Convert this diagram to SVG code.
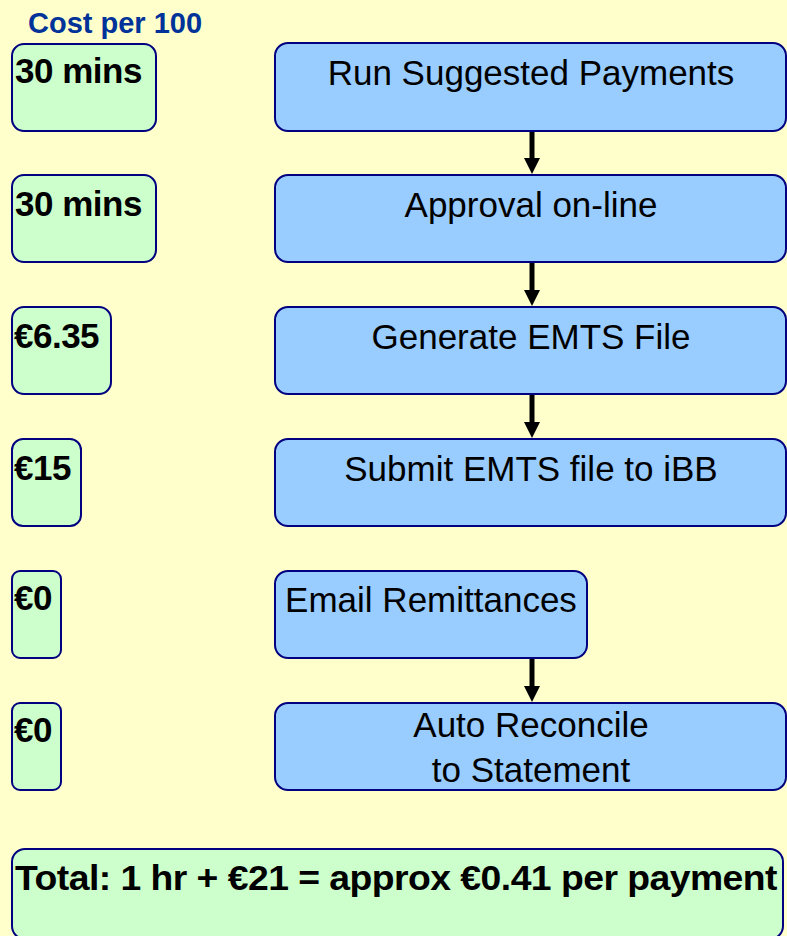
<svg xmlns="http://www.w3.org/2000/svg" width="787" height="936" viewBox="0 0 787 936">
  <style>
    .bg { fill: #FFFFCC; }
    .step { fill: #99CCFF; stroke: #000080; stroke-width: 2; }
    .cost { fill: #CCFFCC; stroke: #000080; stroke-width: 2; }
    .stepText { font-family: "Liberation Sans", Arial, sans-serif; font-size: 35px; fill: #000000; text-anchor: middle; }
    .costText { font-family: "Liberation Sans", Arial, sans-serif; font-size: 35px; font-weight: bold; fill: #000000; letter-spacing: -0.5px; }
    .title { font-family: "Liberation Sans", Arial, sans-serif; font-size: 29px; font-weight: bold; fill: #003399; }
    .conn { stroke: #000000; stroke-width: 5; fill: none; marker-end: url(#arrow); }
  </style>
  <defs>
    <marker id="arrow" markerUnits="userSpaceOnUse" markerWidth="16" markerHeight="16" refX="0" refY="8" orient="auto">
      <path d="M0,0 L16,8 L0,16 z" fill="#000000"/>
    </marker>
  </defs>
  <rect class="bg" x="0" y="0" width="787" height="936"/>

  <text id="title" class="title" x="28" y="33">Cost per 100</text>

  <g id="cost1">
    <rect class="cost" x="12" y="44" width="144" height="87" rx="12"/>
    <text class="costText" x="15" y="83">30 mins</text>
  </g>
  <g id="cost2">
    <rect class="cost" x="12" y="175" width="144" height="87" rx="12"/>
    <text class="costText" x="15" y="216">30 mins</text>
  </g>
  <g id="cost3">
    <rect class="cost" x="12" y="307" width="99" height="87" rx="12"/>
    <text class="costText" x="14" y="348">€6.35</text>
  </g>
  <g id="cost4">
    <rect class="cost" x="12" y="439" width="69" height="87" rx="11"/>
    <text class="costText" x="14" y="480">€15</text>
  </g>
  <g id="cost5">
    <rect class="cost" x="12" y="571" width="49" height="87" rx="8"/>
    <text class="costText" x="14" y="610" font-size="32">€0</text>
  </g>
  <g id="cost6">
    <rect class="cost" x="12" y="703" width="49" height="87" rx="8"/>
    <text class="costText" x="14" y="742" font-size="32">€0</text>
  </g>

  <g id="step1">
    <rect class="step" x="275" y="43" width="511" height="88" rx="13"/>
    <text class="stepText" x="531" y="85">Run Suggested Payments</text>
  </g>
  <g id="step2">
    <rect class="step" x="275" y="175" width="511" height="87" rx="13"/>
    <text class="stepText" x="531" y="217">Approval on-line</text>
  </g>
  <g id="step3">
    <rect class="step" x="275" y="307" width="511" height="87" rx="13"/>
    <text class="stepText" x="531" y="349">Generate EMTS File</text>
  </g>
  <g id="step4">
    <rect class="step" x="275" y="439" width="511" height="87" rx="13"/>
    <text class="stepText" x="531" y="481">Submit EMTS file to iBB</text>
  </g>
  <g id="step5">
    <rect class="step" x="275" y="571" width="312" height="87" rx="13"/>
    <text class="stepText" x="431" y="612">Email Remittances</text>
  </g>
  <g id="step6">
    <rect class="step" x="275" y="703" width="511" height="87" rx="13"/>
    <text class="stepText" x="531" y="737">Auto Reconcile</text>
    <text class="stepText" x="531" y="782">to Statement</text>
  </g>

  <g id="total">
    <rect class="cost" x="12" y="849" width="771" height="90" rx="13"/>
    <text class="costText" x="15" y="890" font-size="34" textLength="762" lengthAdjust="spacingAndGlyphs">Total: 1 hr + €21 = approx €0.41 per payment</text>
  </g>

  <g id="connectors">
    <line class="conn" x1="532" y1="132" x2="532" y2="158"/>
    <line class="conn" x1="532" y1="263" x2="532" y2="290"/>
    <line class="conn" x1="532" y1="395" x2="532" y2="422"/>
    <line class="conn" x1="532" y1="659" x2="532" y2="686"/>
  </g>
</svg>
